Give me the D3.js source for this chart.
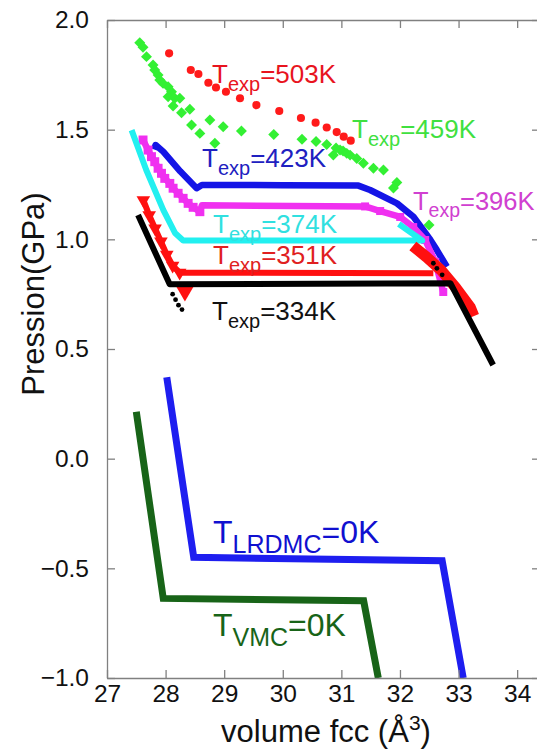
<!DOCTYPE html>
<html><head><meta charset="utf-8">
<script src="https://cdn.jsdelivr.net/npm/d3@7"></script>
<style>body{margin:0;background:#fff} text{font-family:"Liberation Sans",Arial,Helvetica,sans-serif}</style>
</head><body><svg id="c" width="537" height="755"></svg>
<script>
const xTicks=[27,28,29,30,31,32,33,34];
const yTicks=[-1,-0.5,0,0.5,1,1.5,2];
const t503=[[28.06,1.848],[28.43,1.772],[28.56,1.754],[28.73,1.714],[28.86,1.692],[29.03,1.673],[29.27,1.643],[29.55,1.612],[29.94,1.585],[30.31,1.553],[30.56,1.532],[30.75,1.510],[30.92,1.489],[31.04,1.468],[31.16,1.450]];
const t459=[[27.559,1.896],[27.615,1.876],[27.674,1.833],[27.786,1.795],[27.815,1.772],[27.872,1.749],[27.901,1.726],[27.957,1.711],[28.043,1.696],[28.101,1.673],[28.043,1.650],[28.157,1.643],[28.243,1.643],[28.128,1.608],[28.272,1.577],[28.414,1.593],[28.443,1.521],[28.756,1.544],[28.585,1.483],[28.983,1.513],[28.841,1.438],[29.294,1.494],[29.846,1.478],[30.328,1.456],[30.568,1.446],[30.750,1.432],[30.863,1.384],[30.909,1.416],[30.978,1.407],[31.029,1.403],[31.092,1.392],[31.149,1.384],[31.263,1.369],[31.376,1.347],[31.547,1.324],[31.718,1.316],[31.947,1.259],[31.889,1.234],[32.496,1.065]];
const t423=[[27.80,1.41],[27.83,1.43],[27.96,1.40],[28.25,1.31],[28.53,1.233],[28.62,1.248],[30.0,1.247],[31.29,1.245],[31.49,1.225],[31.95,1.164],[32.23,1.103],[32.40,1.042],[32.52,0.997],[32.63,0.951],[32.80,0.875]];
const t396=[[27.615,1.453],[27.701,1.407],[27.759,1.377],[27.815,1.354],[27.872,1.324],[27.930,1.301],[27.986,1.278],[28.072,1.255],[28.128,1.233],[28.214,1.210],[28.299,1.187],[28.385,1.164],[28.470,1.146],[28.585,1.126],[28.62,1.155],[31.405,1.150],[31.662,1.129],[32.004,1.102],[32.226,1.056],[32.431,0.997],[32.602,0.897],[32.739,0.760]];
const t374=[[27.42,1.498],[27.67,1.316],[27.96,1.134],[28.16,1.029],[28.30,0.995],[32.38,0.995],[31.98,1.07]];
const t351=[[27.62,1.179],[27.72,1.11],[27.82,1.05],[27.92,0.99],[28.02,0.93],[28.12,0.88],[28.24,0.848],[32.57,0.845]];
const t351Right=[[32.22,0.97],[32.45,0.92],[32.70,0.86],[32.95,0.78],[33.20,0.69],[33.26,0.65]];
const t351Tail=[[28.33,0.765]];
const t334=[[27.53,1.111],[28.07,0.795],[32.86,0.80],[33.59,0.427]];
const t334Dots=[[28.12,0.75],[28.17,0.725],[28.22,0.70],[28.28,0.68],[32.57,0.891],[32.63,0.868],[32.72,0.838]];
const vmc=[[27.50,0.214],[27.96,-0.637],[31.38,-0.648],[31.63,-1.0]];
const lrdmc=[[28.02,0.371],[28.48,-0.450],[32.72,-0.465],[33.08,-1.0]];
const labels=[
 {main:"T",sub:"exp",rest:"=503K",x:212,y:83,fs:26,ss:20,c:"#e8141e"},
 {main:"T",sub:"exp",rest:"=459K",x:352,y:138,fs:26,ss:20,c:"#40e040"},
 {main:"T",sub:"exp",rest:"=423K",x:202,y:167,fs:26,ss:20,c:"#2020c0"},
 {main:"T",sub:"exp",rest:"=396K",x:413,y:210,fs:25.5,ss:19.5,c:"#d040d0"},
 {main:"T",sub:"exp",rest:"=374K",x:213,y:233,fs:26,ss:20,c:"#30e0e0"},
 {main:"T",sub:"exp",rest:"=351K",x:213,y:264,fs:26,ss:20,c:"#e02020"},
 {main:"T",sub:"exp",rest:"=334K",x:212,y:320,fs:26,ss:20,c:"#111"},
 {main:"T",sub:"LRDMC",rest:"=0K",x:213,y:543,fs:32,ss:25,c:"#1010d0"},
 {main:"T",sub:"VMC",rest:"=0K",x:213,y:636,fs:32,ss:25,c:"#186418"}
];

const svg=d3.select("#c");
const L=107,R=540,T=20,B=678;
const x=d3.scaleLinear().domain([27,34.39]).range([L,R]);
const y=d3.scaleLinear().domain([-1,2]).range([B,T]);

svg.append("clipPath").attr("id","clip").append("rect").attr("x",L).attr("y",T).attr("width",R-L).attr("height",B-T);
const g=svg.append("g").attr("clip-path","url(#clip)");
const line=d3.line().x(d=>x(d[0])).y(d=>y(d[1]));

function path(data,color,w,join){
  g.append("path").datum(data).attr("d",line).attr("fill","none").attr("stroke",color)
   .attr("stroke-width",w).attr("stroke-linejoin",join||"round").attr("stroke-linecap","butt");
}
function marks(data,color,type,size,rot){
  const sym=d3.symbol().type(type).size(size);
  g.selectAll(null).data(data).enter().append("path").attr("d",sym)
   .attr("transform",d=>`translate(${x(d[0])},${y(d[1])}) rotate(${rot||0})`).attr("fill",color);
}

path(vmc,"#186418",7,"miter");
path(lrdmc,"#1e1ef0",7,"miter");
marks(t503,"#ff1a1a",d3.symbolCircle,52);
marks(t459,"#33f033",d3.symbolSquare,60,45);
path(t423,"#1414e6",6.5);
path(t396,"#f030f0",6.5);
marks(t396.slice(0,14),"#f030f0",d3.symbolSquare,80);
marks(t396.slice(15),"#f030f0",d3.symbolSquare,64);
path(t374,"#22f0f0",6);
path(t351,"#ff1010",6);
marks(t351.slice(0,7),"#ff1010",d3.symbolTriangle,80,180);
marks(t351Tail,"#ff1010",d3.symbolTriangle,150,180);
path(t351Right,"#ff1010",11);
path(t334,"#000",6);
marks(t334Dots,"#000",d3.symbolCircle,18);

const axG=svg.append("g").attr("class","axes");
axG.append("g").attr("transform",`translate(${L},0)`).call(d3.axisLeft(y).tickValues(yTicks).tickSize(-8).tickSizeOuter(0).tickPadding(18).tickFormat(d=>(d<0?"\u2212":"")+Math.abs(d).toFixed(1)));
axG.append("g").attr("transform",`translate(${R},0)`).call(d3.axisRight(y).tickValues(yTicks).tickSize(-8).tickSizeOuter(0).tickFormat(""));
axG.append("g").attr("transform",`translate(0,${B})`).call(d3.axisBottom(x).tickValues(xTicks).tickSize(-8).tickSizeOuter(0).tickPadding(7).tickFormat(d3.format("d")));
axG.append("g").attr("transform",`translate(0,${T})`).call(d3.axisTop(x).tickValues(xTicks).tickSize(-8).tickSizeOuter(0).tickFormat(""));
axG.selectAll(".domain,.tick line").attr("stroke","#808080").attr("stroke-width",1.3);
axG.selectAll(".tick text").attr("font-size",24.5).attr("fill","#111").attr("font-family","Liberation Sans, Arial, sans-serif");

labels.forEach(l=>{
  const t=svg.append("text").attr("x",l.x).attr("y",l.y).attr("fill",l.c).attr("font-size",l.fs);
  t.append("tspan").text(l.main);
  t.append("tspan").attr("font-size",l.ss).attr("dy",l.ss*0.38).text(l.sub);
  t.append("tspan").attr("dy",-l.ss*0.38).text(l.rest);
});

const xt=svg.append("text").attr("x",326).attr("y",742).attr("text-anchor","middle").attr("font-size",31).attr("fill","#111");
xt.append("tspan").text("volume fcc (\u00C5");
xt.append("tspan").attr("font-size",21).attr("dy",-12).text("3");
xt.append("tspan").attr("dy",12).text(")");
svg.append("text").attr("transform","translate(44,294) rotate(-90)").attr("text-anchor","middle").attr("font-size",31).attr("fill","#111").text("Pression(GPa)");
</script></body></html>
